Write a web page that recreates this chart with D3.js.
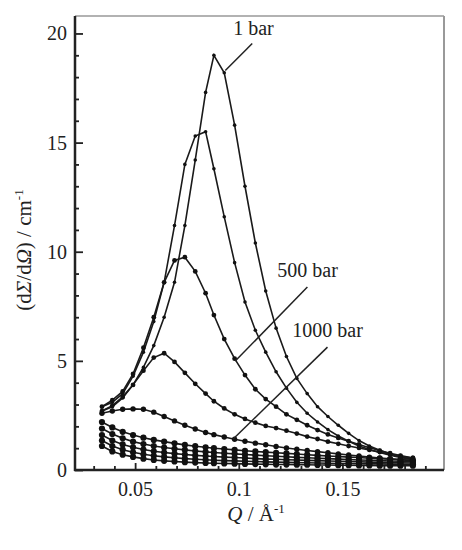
<!DOCTYPE html>
<html>
<head>
<meta charset="utf-8">
<script src="https://cdn.jsdelivr.net/npm/d3@7"></script>
<style>
  html, body { margin: 0; padding: 0; background: #fff; }
  svg { display: block; }
  text { font-family: "Liberation Serif", "DejaVu Serif", serif; fill: #222; }
</style>
</head>
<body>
<svg id="chart" width="462" height="550"></svg>
<script>
// ---- data ----
const Q = [0.034,0.039,0.044,0.049,0.054,0.059,0.064,0.069,0.074,0.079,0.084,0.088,0.093,0.098,0.103,0.108,0.113,0.118,0.123,0.128,0.133,0.138,0.143,0.148,0.153,0.158,0.163,0.168,0.173,0.178,0.184];
const s1  = [2.7,2.9,3.3,3.9,4.7,5.7,7.0,8.6,11.2,14.2,17.3,19.0,18.2,15.8,13.0,10.4,8.2,6.5,5.2,4.2,3.5,2.9,2.45,2.05,1.68,1.35,1.1,0.9,0.73,0.6,0.48];
const s2  = [2.9,3.1,3.5,4.3,5.4,6.8,8.6,11.2,14.0,15.3,15.5,13.8,11.6,9.5,7.7,6.4,5.4,4.5,3.75,3.1,2.6,2.2,1.85,1.56,1.32,1.1,0.94,0.8,0.68,0.57,0.47];
const s3  = [2.9,3.2,3.6,4.4,5.6,7.0,8.6,9.6,9.75,9.1,8.1,7.1,6.0,5.1,4.35,3.7,3.25,2.9,2.55,2.3,2.05,1.83,1.63,1.47,1.32,1.17,1.02,0.89,0.77,0.66,0.55];
const s4  = [2.7,2.95,3.35,3.9,4.55,5.15,5.35,4.95,4.45,3.95,3.5,3.15,2.82,2.55,2.34,2.17,2.02,1.92,1.8,1.67,1.53,1.42,1.3,1.2,1.1,1.01,0.92,0.82,0.72,0.63,0.55];
const s5  = [2.6,2.7,2.78,2.8,2.78,2.65,2.45,2.25,2.05,1.88,1.72,1.62,1.51,1.41,1.32,1.23,1.16,1.08,1.01,0.95,0.89,0.84,0.79,0.74,0.69,0.64,0.59,0.55,0.51,0.47,0.42];
const s6  = [2.2,1.95,1.75,1.6,1.48,1.38,1.3,1.22,1.15,1.09,1.04,1.0,0.96,0.92,0.88,0.85,0.82,0.79,0.76,0.73,0.7,0.67,0.64,0.62,0.59,0.57,0.54,0.52,0.5,0.48,0.45];
const s7  = [1.9,1.65,1.45,1.3,1.19,1.1,1.03,0.97,0.92,0.87,0.83,0.8,0.77,0.74,0.71,0.68,0.65,0.63,0.61,0.58,0.56,0.54,0.52,0.5,0.48,0.46,0.45,0.43,0.41,0.4,0.38];
const s8  = [1.6,1.35,1.17,1.04,0.94,0.86,0.8,0.75,0.71,0.67,0.64,0.62,0.59,0.57,0.55,0.52,0.5,0.49,0.47,0.46,0.44,0.43,0.41,0.4,0.39,0.38,0.36,0.35,0.34,0.33,0.32];
const s9  = [1.35,1.1,0.93,0.81,0.72,0.65,0.6,0.56,0.52,0.49,0.47,0.45,0.43,0.42,0.4,0.39,0.37,0.36,0.35,0.34,0.33,0.32,0.31,0.3,0.3,0.29,0.28,0.28,0.27,0.27,0.26];
const s10 = [1.1,0.85,0.7,0.6,0.52,0.46,0.42,0.39,0.36,0.34,0.32,0.31,0.3,0.29,0.28,0.27,0.26,0.25,0.25,0.24,0.24,0.23,0.23,0.22,0.22,0.21,0.21,0.2,0.2,0.2,0.2];
const seriesList = [s1,s2,s3,s4,s5,s6,s7,s8,s9,s10];
const markerR = [1.8,1.8,2.4,2.4,2.7,3.1,3.1,3.1,3.1,3.1];

const xMajor = [0.05,0.1,0.15];
const xMinor = [0.03,0.04,0.06,0.07,0.08,0.09,0.11,0.12,0.13,0.14,0.16,0.17,0.18,0.19];
const yMajor = [0,5,10,15,20];
const yMinor = [1,2,3,4,6,7,8,9,11,12,13,14,16,17,18,19];

// annotations: label text + anchor (Q, value) and leader line endpoints
const annLabels = ["1 bar","500 bar","1000 bar"];
const annTextQ  = [0.0973,0.1186,0.1258];
const annTextV  = [19.95,8.83,6.09];
const annLineQ1 = [0.1065,0.1331,0.1428];
const annLineV1 = [19.54,8.38,5.63];
const annLineQ2 = [0.0935,0.0983,0.0973];
const annLineV2 = [18.3,4.99,1.42];

// ---- layout ----
const svg = d3.select("#chart");
const L = 75, R = 444, T = 16, B = 470;
const x = d3.scaleLinear().domain([0.021,0.199]).range([L,R]);
const y = d3.scaleLinear().domain([0,20.8]).range([B,T]);

// frame top/right
svg.append("line").attr("x1",L).attr("x2",R).attr("y1",T).attr("y2",T)
  .attr("stroke","#999").attr("stroke-width",1.5);
svg.append("line").attr("x1",R).attr("x2",R).attr("y1",T).attr("y2",B)
  .attr("stroke","#999").attr("stroke-width",2);

// axes
const fontSize = 20;
const yAx = svg.append("g").attr("transform",`translate(${L},0)`)
  .call(d3.axisLeft(y).tickValues(yMajor).tickSize(-8).tickPadding(8).tickFormat(d3.format("d")));
const yAxMin = svg.append("g").attr("transform",`translate(${L},0)`)
  .call(d3.axisLeft(y).tickValues(yMinor).tickSize(-4).tickFormat(""));
const xAx = svg.append("g").attr("transform",`translate(0,${B})`)
  .call(d3.axisBottom(x).tickValues(xMajor).tickSize(-7).tickPadding(12).tickFormat(d => String(d)));
const xAxMin = svg.append("g").attr("transform",`translate(0,${B})`)
  .call(d3.axisBottom(x).tickValues(xMinor).tickSize(-4).tickFormat(""));
[yAx,yAxMin,xAx,xAxMin].forEach(g => {
  g.select(".domain").remove();
  g.selectAll(".tick line").attr("stroke","#222").attr("stroke-width",1.8);
  g.selectAll(".tick text").attr("font-family","Liberation Serif, serif")
    .attr("font-size",fontSize).attr("fill","#222");
});
// spines left & bottom
svg.append("line").attr("x1",L).attr("x2",L).attr("y1",T).attr("y2",B+1)
  .attr("stroke","#222").attr("stroke-width",2.5);
svg.append("line").attr("x1",L-1).attr("x2",R).attr("y1",B).attr("y2",B)
  .attr("stroke","#222").attr("stroke-width",2.5);

// curves
const line = d3.line().x((d,i) => x(Q[i])).y(d => y(d));
const gCurves = svg.append("g");
seriesList.forEach((s,k) => {
  gCurves.append("path").attr("d",line(s)).attr("fill","none")
    .attr("stroke","#1a1a1a").attr("stroke-width",1.6);
  gCurves.selectAll(null).data(s).enter().append("circle")
    .attr("cx",(d,i) => x(Q[i])).attr("cy",d => y(d)).attr("r",markerR[k])
    .attr("fill","#111");
});

// annotations
annLabels.forEach((t,i) => {
  svg.append("line")
    .attr("x1",x(annLineQ1[i])).attr("y1",y(annLineV1[i]))
    .attr("x2",x(annLineQ2[i])).attr("y2",y(annLineV2[i]))
    .attr("stroke","#222").attr("stroke-width",1.5);
  svg.append("text").attr("x",x(annTextQ[i])).attr("y",y(annTextV[i]))
    .attr("font-size",fontSize).text(t);
});

// axis titles
const xt = svg.append("text").attr("x",256).attr("y",521).attr("text-anchor","middle")
  .attr("font-size",21);
xt.append("tspan").attr("font-style","italic").text("Q");
xt.append("tspan").text(" / Å");
xt.append("tspan").attr("font-size",13).attr("dy",-8).text("-1");

const yt = svg.append("text").attr("transform","translate(31,250) rotate(-90)")
  .attr("text-anchor","middle").attr("font-size",21);
yt.append("tspan").text("(d");
yt.append("tspan").attr("font-style","italic").text("Σ");
yt.append("tspan").text("/d");
yt.append("tspan").attr("font-style","italic").text("Ω");
yt.append("tspan").text(") / cm");
yt.append("tspan").attr("font-size",13).attr("dy",-8).text("-1");
</script>
</body>
</html>
